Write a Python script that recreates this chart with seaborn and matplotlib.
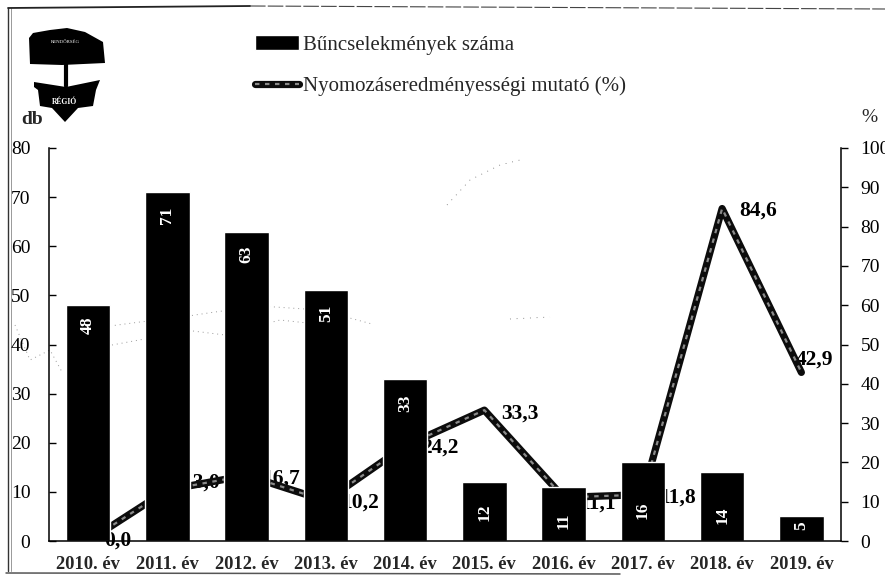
import seaborn as sns
import matplotlib.pyplot as plt
from matplotlib.legend_handler import HandlerTuple
import numpy as np

# Data
years = ['2010. év', '2011. év', '2012. év', '2013. év', '2014. év',
         '2015. év', '2016. év', '2017. év', '2018. év', '2019. év']
crimes = [48, 71, 63, 51, 33, 12, 11, 16, 14, 5]
clearance = [0.0, 13.0, 16.7, 10.2, 24.2, 33.3, 11.1, 11.8, 84.6, 42.9]
clearance_labels = ['0,0', '13,0', '16,7', '10,2', '24,2', '33,3', '11,1', '11,8', '84,6', '42,9']

# Label placement in pixels, measured from the mark
bar_label_drop = [20, 23, 23, 23, 24, 30, 34, 48, 43, 9]
line_label_dx = [30, 34, 34, 34, 35, 36, 34, 35, 36, 13]
line_label_dy = [0, 7, -3, -2, -2, -3, -6, -3, -2, 13]

sns.set_theme(style='white')
plt.rcParams['font.family'] = ['Liberation Serif', 'DejaVu Serif']

W, H = 885, 576
fig = plt.figure(figsize=(W / 100, H / 100), dpi=100)

# Overlay in pixel coordinates for the scan frame, logo and speckle
deco = fig.add_axes([0, 0, 1, 1], zorder=0)
deco.set_xlim(0, W)
deco.set_ylim(H, 0)
deco.set_axis_off()
deco.plot([8, 8], [8, 571], color='#333333', lw=1.0)
deco.plot([11, 11], [8, 571], color='#999999', lw=0.7)
deco.plot([8, 250], [8, 6], color='#222222', lw=1.3)
deco.plot([250, 885], [6, 9], color='#444444', lw=0.8, ls=(0, (14, 2)))
deco.plot([6, 620], [573, 574], color='#555555', lw=1.1)

logo_top = [(29, 38), (33, 33), (50, 30), (67, 28), (85, 32), (103, 42), (105, 63), (62, 65), (30, 64)]
logo_low = [(34, 82), (66, 87), (100, 80), (96, 90), (93, 106), (78, 108), (65, 122),
            (52, 108), (40, 106), (38, 90), (34, 87)]
deco.fill(*zip(*logo_top), color='black', lw=0)
deco.fill(*zip(*logo_low), color='black', lw=0)
deco.plot([66, 66], [64, 86], color='black', lw=3)
deco.text(65, 102, 'RÉGIÓ', color='white', fontsize=5.5, fontweight='bold', ha='center', va='center')
deco.text(65, 42, 'RENDŐRSÉG', color='white', fontsize=3.5, ha='center', va='center')

for xs, ys in [([110, 140, 175, 215, 260, 320, 372], [326, 322, 318, 312, 306, 310, 324]),
               ([112, 150, 185, 225, 280, 335], [345, 338, 330, 335, 320, 326]),
               ([15, 30, 50, 62], [325, 360, 350, 372])]:
    deco.plot(xs, ys, color='#9a9a9a', lw=0.7, ls=(0, (1, 4)))
for xs, ys in [([447, 470, 500, 520], [205, 180, 165, 160]), ([510, 550], [319, 317])]:
    deco.plot(xs, ys, color='#666666', lw=0.6, ls=(0, (1, 7)))

# Main axes: bars on the left scale, line on the right scale behind the bars
ax = fig.add_axes([48.5 / W, 1 - 541 / H, (841 - 48.5) / W, (541 - 148) / H], zorder=3)
ax2 = ax.twinx()
ax.set_zorder(3)
ax2.set_zorder(2)
ax.patch.set_visible(False)
ax2.patch.set_visible(False)

sns.barplot(x=years, y=crimes, color='black', saturation=1, width=0.56, ax=ax,
            label='Bűncselekmények száma')
x_pos = np.arange(len(years))
sns.lineplot(x=x_pos, y=clearance, color='#0c0c0c', lw=5.2, ax=ax2, zorder=5, legend=False,
             solid_capstyle='round')
sns.lineplot(x=x_pos, y=clearance, color='#8a8a8a', lw=1.6, ax=ax2, zorder=6, legend=False,
             linestyle=(0, (2, 2.5)))

ax.set_xlim(-0.5, 9.5)
ax.set_ylim(0, 80)
ax2.set_ylim(0, 100)
ax.set_yticks(range(0, 81, 10))
ax2.set_yticks(range(0, 101, 10))
ax.set_xlabel('')
ax.set_ylabel('')
ax2.set_ylabel('')

for i, (n, drop) in enumerate(zip(crimes, bar_label_drop)):
    ax.annotate(str(n), (i, n), xytext=(0, -drop), textcoords='offset pixels', color='white',
                fontsize=12.5, fontweight='bold', rotation=90, ha='center', va='center')
for i, (v, txt) in enumerate(zip(clearance, clearance_labels)):
    ax2.annotate(txt, (i, v), xytext=(line_label_dx[i], line_label_dy[i]), textcoords='offset pixels',
                 color='black', fontsize=15.5, fontweight='bold', ha='center', va='center', zorder=3,
                 annotation_clip=False)

# Spines and ticks
for a in (ax, ax2):
    a.spines['top'].set_visible(False)
    for s in a.spines.values():
        s.set_color('black')
        s.set_linewidth(1.1)
ax2.spines['left'].set_visible(False)
ax2.spines['bottom'].set_visible(False)
ax.spines['right'].set_visible(False)
ax.tick_params(axis='y', direction='in', length=5, width=1, left=True, labelsize=14, pad=13, colors='black')
ax2.tick_params(axis='y', direction='out', length=5, width=1, right=True, labelsize=14, pad=9, colors='black')
ax.tick_params(axis='x', bottom=False, pad=4.5)
for lab in ax.get_xticklabels():
    lab.set_fontweight('bold')
    lab.set_fontsize(13.3)

fig.text(32 / W, 1 - 120 / H, 'db', fontsize=14, ha='center', va='center', fontweight='bold')
fig.text(869 / W, 1 - 117 / H, '%', fontsize=14, ha='center', va='center')

# Legend, upper centre
if ax.get_legend():
    ax.get_legend().remove()
bar_h, bar_l = ax.get_legend_handles_labels()
line_h = tuple(ax2.get_lines()[:2])
leg = fig.legend(bar_h + [line_h], bar_l + ['Nyomozáseredményességi mutató (%)'], loc='upper left',
                 bbox_to_anchor=(255 / W, 1 - 35 / H), bbox_transform=fig.transFigure,
                 handler_map={tuple: HandlerTuple(ndivide=1, pad=0)},
                 frameon=False, fontsize=15, handlelength=2.1, handletextpad=0.2,
                 labelspacing=1.05, borderpad=0, borderaxespad=0)

fig.savefig('out.png', dpi=100, facecolor='white')
plt.close(fig)
